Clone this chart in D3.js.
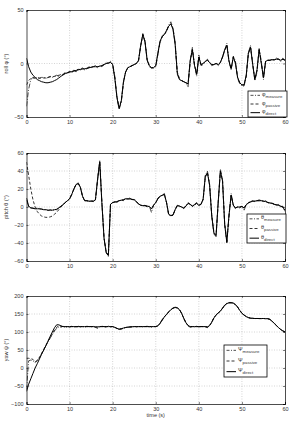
<!DOCTYPE html>
<html>
<head>
<meta charset="utf-8">
<script src="https://cdn.jsdelivr.net/npm/d3@7"></script>
<style>
body { margin: 0; background: #fff; }
svg { display: block; }
text { font-family: "Liberation Sans", Arial, sans-serif; }
</style>
</head>
<body>
<script>
var w = 291; //width of the page
var h = 421; //height of the page

// time axis, one sample every 0.5 s
var t = d3.range(0, 60.5, 0.5);
var timeTicks = [0, 10, 20, 30, 40, 50, 60];

// roll (deg)
var rollTicks = [-50, 0, 50];
var rollMeasure = [
  -40,-24,-15,-13,-14,-13,-14,-13,-13,-14,
  -13,-12,-13,-12,-11,-12,-10,-11,-8,-10,
  -7,-9,-6,-8,-5,-6,-4,-6,-5,-3,
  -4,-3,-2,-4,-2,-3,-1,1,0,2,
  0,-12,-32,-43,-36,-18,-8,-4,-3,-2,
  -1,0,2,16,28,22,4,-3,-4,-4,
  -3,8,20,26,28,30,36,39,33,20,
  -10,-15,-16,-17,-18,-22,2,15,-2,-12,
  8,-2,-1,2,4,1,-2,-1,0,-2,
  1,6,12,19,2,-6,7,2,-14,-19,
  -21,-21,-12,10,17,0,-16,-8,14,2,
  -15,2,3,3,4,3,5,4,2,5,
  3];
var rollPassive = [
  -20,-16,-14,-13.5,-13.5,-13.5,-13.5,-13.5,-13.5,-13.5,
  -13,-12.5,-12.5,-12,-11.5,-11,-10.5,-10,-9,-8.5,
  -8,-7.5,-7,-6.5,-5.5,-5.5,-5,-5,-4.5,-4,
  -3.5,-3,-3,-3,-2.5,-2,-1,0,0.5,1,
  -1,-13,-31,-41,-35,-18,-8,-4,-3,-2,
  -1,0,3,16,27,21,4,-2,-4,-4,
  -2,9,20,25,27,30,35,37,33,19,
  -8,-14,-16,-17,-18,-19,2,13,-1,-10,
  6,-1,0,2,3,1,-1,-1,0,-1,
  1,6,12,17,3,-5,6,1,-13,-18,
  -20,-20,-12,9,15,0,-15,-7,13,1,
  -13,2,3,3,3.5,3.5,4,4,3,4,
  3];
var rollDirect = [
  5,-3,-8,-11,-13,-15,-16,-17,-17.5,-18,
  -18,-17.5,-17,-16,-15,-13.5,-12,-10.5,-9.5,-8.5,
  -8,-7.5,-7,-6.5,-6,-5.5,-5,-5,-4.5,-4,
  -3.5,-3,-3,-3,-2.5,-2,-1,0,0.5,1,
  -1,-14,-32,-42,-35,-17,-8,-4,-3,-2,
  -1,0,3,17,27,20,3,-2,-4,-4,
  -2,10,21,25,27,31,35,37,32,18,
  -9,-15,-16,-17,-18,-19,3,13,-2,-10,
  6,-1,0,2,3,1,-1,-1,0,-1,
  1,6,13,17,2,-5,6,0,-13,-18,
  -20,-20,-11,10,15,-1,-15,-6,13,0,
  -13,2,3,3,3.5,3.5,4,4,3,4,
  3];

// pitch (deg)
var pitchTicks = [-60, -40, -20, 0, 20, 40, 60];
var pitchMeasure = [
  8,0,-1,-1,-2,-1,-2,-2,-3,-3,
  -4,-3,-4,-3,-3,-1,1,3,5,7,
  9,14,20,25,27,22,12,7,7,6,
  7,6,8,30,52,5,-35,-50,-55,3,
  5,6,5,7,8,7,10,9,10,8,
  9,6,3,2,1,2,0,1,-6,2,
  5,10,12,13,15,5,-9,-10,-9,-3,
  2,1,0,-2,1,5,3,0,3,5,
  1,3,8,35,40,25,-10,-30,-33,5,
  42,30,-20,-40,-10,15,2,-2,0,-1,
  1,-4,3,5,6,7,6,7,8,7,
  6,7,5,4,5,3,2,3,0,1,
  -5];
var pitchPassive = [
  50,35,20,8,0,-5,-8,-10,-11,-11.5,
  -11.5,-11,-10,-8,-6,-3,0,2.5,5,7,
  9,14,20,25,26,22,12,7,7,6.5,
  6.5,6.5,8,30,50,5,-34,-50,-53,3,
  5,5.5,6,7,7.5,8,9,9,9,8.5,
  8,6,3.5,2,1.5,1.5,1,0.5,-2,2,
  5,9,12,13,14,5,-8,-9.5,-9,-3,
  1.5,1,0,-1,1,4,3,1,2.5,4,
  2,3,8,33,38,25,-9,-28,-31,5,
  39,30,-18,-38,-10,13,2,-1,0,0,
  0.5,-1,2.5,4.5,5.5,6.5,6.5,7,7,7,
  6.5,6,5,4.5,4,3,2.5,2,1,0,
  -4];
var pitchDirect = [
  10,1,-1,-1.5,-2,-2,-2,-2.5,-3,-3,
  -3.5,-3.5,-3.5,-3,-2.5,-1,1,2.5,5,7,
  9,14,20,25,26,22,12,7,7,6.5,
  6.5,6.5,8,31,50,4,-35,-51,-54,3,
  5,5.5,6,7,7.5,8,9,9,9,8.5,
  8,6,3.5,2,1.5,1.5,1,0.5,-2,2,
  5,9,12,13,14,5,-8,-9.5,-9,-3,
  1.5,1,0,-1,1,4,3,1,2.5,4,
  2,3,9,34,38,24,-10,-29,-32,6,
  40,29,-19,-39,-9,13,2,-1,0,0,
  0.5,-1,2.5,4.5,5.5,6.5,6.5,7,7,7,
  6.5,6,5,4.5,4,3,2.5,2,1,0,
  -4];

// yaw (deg)
var yawTicks = [-100, -50, 0, 50, 100, 150, 200];
var yawMeasure = [
  -60,20,22,20,15,22,28,40,50,62,
  72,83,93,103,110,114,113,116,112,115,
  113,116,114,112,116,114,115,113,116,115,
  114,116,113,110,114,116,115,113,117,114,
  115,112,109,107,108,110,112,113,114,114,
  115,114,115,115,114,115,116,114,113,115,
  115,117,125,135,142,148,155,162,167,169,
  168,163,152,138,125,117,113,115,114,116,
  114,115,115,114,112,118,128,140,148,153,
  158,166,175,180,182,182,181,177,170,160,
  152,147,142,140,138,138,137,138,137,137,
  138,137,137,135,130,125,118,112,107,103,
  100];
var yawPassive = [
  27,27,26,24,17,20,30,40,52,63,
  74,85,95,105,113,117,116,115,115,115,
  115,115,115,115,115,115,115,115,115,115,
  115,115,114,114,115,115,115,115,115,115,
  115,113,110,108,109,111,112.5,113.5,114,114.5,
  115,115,115,115,115,115,115,115,115,115,
  115,117,124,133,142,149,156,162,166,168,
  167,162,152,138,126,118,115,115,115,115,
  115,115,115,115,114,118,127,139,147,153,
  158,166,174,179,181,181,180,176,169,160,
  152,147,143,140,138.5,138,137.5,137.5,137.5,137.5,
  137.5,137,137,135,130,124,118,112,107,103,
  100];
var yawDirect = [
  -65,-45,-30,-15,0,12,25,38,50,62,
  75,88,100,112,120,120,117,115,115,115,
  115,115,115,115,115,115,115,115,115,115,
  115,115,114,114,115,115,115,115,115,115,
  115,113,110,108,109,111,112.5,113.5,114,114.5,
  115,115,115,115,115,115,115,115,115,115,
  115,117,124,133,142,149,156,162,166,168,
  167,162,152,138,126,118,115,115,115,115,
  115,115,115,115,114,118,127,139,147,153,
  158,166,174,179,181,181,180,176,169,160,
  152,147,143,140,138.5,138,137.5,137.5,137.5,137.5,
  137.5,137,137,135,130,124,118,112,107,103,
  100];

var svg = d3.select("body").append("svg")
  .attr("width", w)
  .attr("height", h);

var xScale = d3.scaleLinear().domain([0, 60]).range([26.5, 285]);

// line styles for the three series
var styles = [
  {dash: null, width: 1.0},          // direct
  {dash: "3,2", width: 0.8},         // passive
  {dash: "5,1.5,1,1.5", width: 0.7}  // measure
];

function drawPanel(id, top, bottom, ticks, yLabel, sym, meas, pas, dir, leg, showTime) {
  var yScale = d3.scaleLinear()
    .domain([ticks[0], ticks[ticks.length - 1]])
    .range([bottom, top]);
  var g = svg.append("g");
  var x0 = xScale.range()[0], x1 = xScale.range()[1];

  // dotted grid
  g.selectAll(".gx").data(timeTicks.slice(1, -1)).enter().append("line")
    .attr("x1", function(d) { return xScale(d); })
    .attr("x2", function(d) { return xScale(d); })
    .attr("y1", top).attr("y2", bottom)
    .attr("stroke", "#aaa").attr("stroke-width", 0.5)
    .attr("stroke-dasharray", "1,1.5");
  g.selectAll(".gy").data(ticks.slice(1, -1)).enter().append("line")
    .attr("x1", x0).attr("x2", x1)
    .attr("y1", function(d) { return yScale(d); })
    .attr("y2", function(d) { return yScale(d); })
    .attr("stroke", "#aaa").attr("stroke-width", 0.5)
    .attr("stroke-dasharray", "1,1.5");

  // series
  svg.append("clipPath").attr("id", "clip" + id)
    .append("rect").attr("x", x0).attr("y", top)
    .attr("width", x1 - x0).attr("height", bottom - top);
  var line = d3.line()
    .x(function(d, i) { return xScale(t[i]); })
    .y(function(d) { return yScale(d); });
  [dir, pas, meas].forEach(function(s, k) {
    g.append("path")
      .attr("d", line(s))
      .attr("fill", "none")
      .attr("stroke", "#000")
      .attr("stroke-width", styles[k].width)
      .attr("stroke-dasharray", styles[k].dash)
      .attr("clip-path", "url(#clip" + id + ")");
  });

  // axes (inward ticks, MATLAB style)
  g.append("g").attr("transform", "translate(0," + bottom + ")")
    .call(d3.axisBottom(xScale).tickValues(timeTicks).tickSize(-2).tickPadding(3));
  g.append("g").attr("transform", "translate(0," + top + ")")
    .call(d3.axisTop(xScale).tickValues(timeTicks).tickSize(-2).tickFormat(""));
  g.append("g").attr("transform", "translate(" + x0 + ",0)")
    .call(d3.axisLeft(yScale).tickValues(ticks).tickSize(-2).tickPadding(3));
  g.append("g").attr("transform", "translate(" + x1 + ",0)")
    .call(d3.axisRight(yScale).tickValues(ticks).tickSize(-2).tickFormat(""));
  g.selectAll(".domain").attr("stroke", "#000").attr("stroke-width", 0.7);
  g.selectAll(".tick line").attr("stroke", "#000").attr("stroke-width", 0.5);
  g.selectAll(".tick text").attr("font-size", 5.5).attr("fill", "#333")
    .attr("font-family", "Liberation Sans, Arial, sans-serif");

  // y label
  g.append("text")
    .attr("transform", "translate(8," + ((top + bottom) / 2) + ") rotate(-90)")
    .attr("text-anchor", "middle")
    .attr("font-size", 5.5).attr("fill", "#333")
    .text(yLabel);

  if (showTime) {
    g.append("text")
      .attr("x", (x0 + x1) / 2).attr("y", bottom + 13)
      .attr("text-anchor", "middle")
      .attr("font-size", 5.5).attr("fill", "#333")
      .text("time (s)");
  }

  // legend
  var lg = g.append("g").attr("transform", "translate(" + leg[0] + "," + leg[1] + ")");
  lg.append("rect").attr("width", leg[2]).attr("height", leg[3])
    .attr("fill", "#fff").attr("stroke", "#000").attr("stroke-width", 0.8);
  var names = ["measure", "passive", "direct"];
  var order = [2, 1, 0];
  var rowH = leg[3] / 3;
  names.forEach(function(n, i) {
    var y = rowH * (i + 0.5);
    var st = styles[order[i]];
    lg.append("line").attr("x1", 2.5).attr("x2", 12).attr("y1", y).attr("y2", y)
      .attr("stroke", "#000").attr("stroke-width", st.width)
      .attr("stroke-dasharray", st.dash === "5,1.5,1,1.5" ? "3,1.5,1,1.5" : st.dash);
    var tx = lg.append("text").attr("x", 14).attr("y", y + 0.5)
      .attr("font-size", 5.5).attr("fill", "#333");
    tx.append("tspan").text(sym);
    tx.append("tspan").attr("font-size", 4.3).attr("dy", 2).text(n);
  });
}

drawPanel(1, 10, 117, rollTicks, "roll \u03c6 (\u00b0)", "\u03c6",
  rollMeasure, rollPassive, rollDirect, [248, 91, 39, 26], false);
drawPanel(2, 153, 261, pitchTicks, "pitch \u03b8 (\u00b0)", "\u03b8",
  pitchMeasure, pitchPassive, pitchDirect, [247, 214, 39, 29], false);
drawPanel(3, 296, 404, yawTicks, "yaw \u03c8 (\u00b0)", "\u03a8",
  yawMeasure, yawPassive, yawDirect, [224, 345, 43, 32], true);
</script>
</body>
</html>
